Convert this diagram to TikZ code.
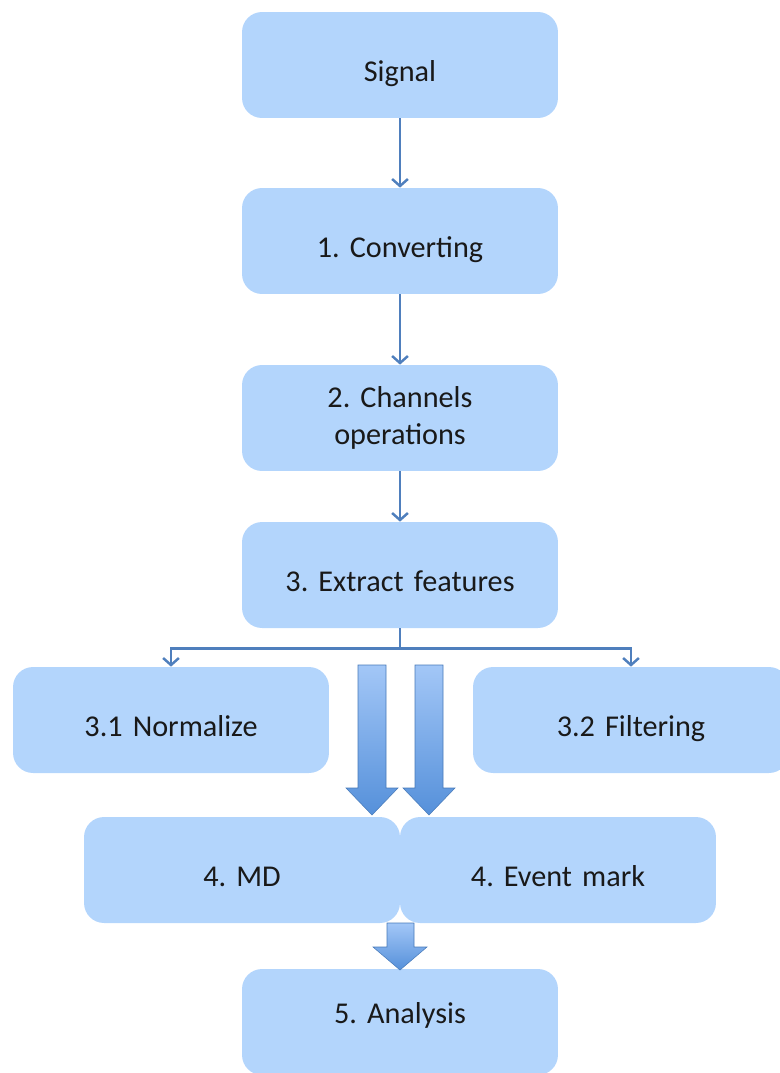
\documentclass[tikz,border=0pt]{standalone}
\usepackage{fontspec}
\setmainfont{Carlito}
\usetikzlibrary{arrows.meta}

\definecolor{boxblue}{HTML}{B3D5FC}
\definecolor{linkblue}{HTML}{4F7FBD}
\definecolor{fattop}{HTML}{A3C7F7}
\definecolor{fatbot}{HTML}{5590DA}

\begin{document}
\frenchspacing
\begin{tikzpicture}[x=0.02cm,y=-0.02cm]
    \tikzstyle{stage} = [fill=boxblue, rectangle, rounded corners=0.4cm, minimum width=6.32cm, minimum height=2.12cm, text width=6cm, align=center, text=black!90, font=\fontsize{17.2}{21}\selectfont]
    \tikzstyle{oneline} = [text height=0.8cm, text depth=0.16cm]
    \tikzstyle{link} = [line width=1.4pt, linkblue, ->, >={Straight Barb[length=4pt,width=9pt]}]
    \tikzstyle{fat} = [top color=fattop, bottom color=fatbot, draw=fatbot!85!black, line width=0.3pt]

    \useasboundingbox (0,0) rectangle (779,1073);

    \node (signal) [stage, oneline] at (400,65) {Signal};
    \node (convert) [stage, oneline] at (400,241) {1. Converting};
    \node (channels) [stage] at (400,418) {2. Channels\\operations};
    \node (extract) [stage, oneline] at (400,575) {3. Extract features};
    \node (normalize) [stage, oneline] at (171,720) {3.1 Normalize};
    \node (filtering) [stage, oneline] at (631,720) {3.2 Filtering};
    \node (md) [stage, oneline] at (242,870) {4. MD};
    \node (event) [stage, oneline] at (558,870) {4. Event mark};
    \node (analysis) [stage, text height=0.66cm, text depth=0.6cm] at (400,1022) {5. Analysis};

    \draw [link] (signal) -- (convert);
    \draw [link] (convert) -- (channels);
    \draw [link] (channels) -- (extract);

    % split below the features step
    \path (extract.south) ++(0,20) coordinate (split);
    \draw [line width=1.4pt, linkblue] (extract.south) -- (split);
    \draw [link] (split) -| (normalize.north);
    \draw [link] (split) -| (filtering.north);

    % block arrows into step 4 and on to step 5
    \draw [fat] (358,665) -- (386,665) -- (386,788) -- (398,788) -- (372,815) -- (346,788) -- (358,788) -- cycle;
    \draw [fat] (415,665) -- (443,665) -- (443,788) -- (455,788) -- (429,815) -- (403,788) -- (415,788) -- cycle;
    \draw [fat] (387,923) -- (414,923) -- (414,947) -- (427,947) -- (400,970) -- (373,947) -- (387,947) -- cycle;
\end{tikzpicture}
\end{document}
